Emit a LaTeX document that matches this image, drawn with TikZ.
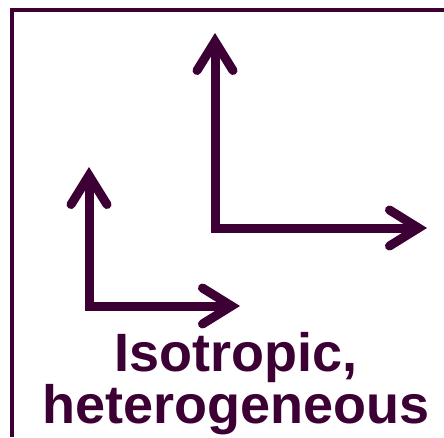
\documentclass[tikz,border=0pt]{standalone}
\usepackage{fontspec}
\setmainfont{Liberation Sans}
\usetikzlibrary{arrows.meta,positioning}
\definecolor{plum}{RGB}{60,0,52}
\tikzset{
  >={Straight Barb[length=29pt,width=36pt,line cap=round,line join=miter]},
  frame/.style={draw=plum,line width=4pt,line join=miter},
  axis/.style={<->,draw=plum,line width=9pt,line join=miter},
  caption/.style={text=plum,font=\fontsize{54}{46}\selectfont\bfseries,align=center,inner sep=0pt},
}
\begin{document}
\begin{tikzpicture}[x=1pt,y=1pt]
    \useasboundingbox (0,0) rectangle (444,437);
    % frame, open at right and bottom
    \coordinate (fb) at (12,0);
    \coordinate (fc) at (12,427);
    \coordinate (fr) at (444,427);
    \draw[frame] (fb) -- (fc) -- (fr);
    % small axes
    \coordinate (o1) at (89,131);
    \coordinate (y1) at (89,270);
    \coordinate (x1) at (240,131);
    \draw[axis] (y1) -- (o1) -- (x1);
    % large axes
    \coordinate (o2) at (215,209);
    \coordinate (y2) at (215,404);
    \coordinate (x2) at (427,209);
    \draw[axis] (y2) -- (o2) -- (x2);
    \node[caption,anchor=base] (lbl) at (236,14) {Isotropic,\\heterogeneous};
\end{tikzpicture}
\end{document}
